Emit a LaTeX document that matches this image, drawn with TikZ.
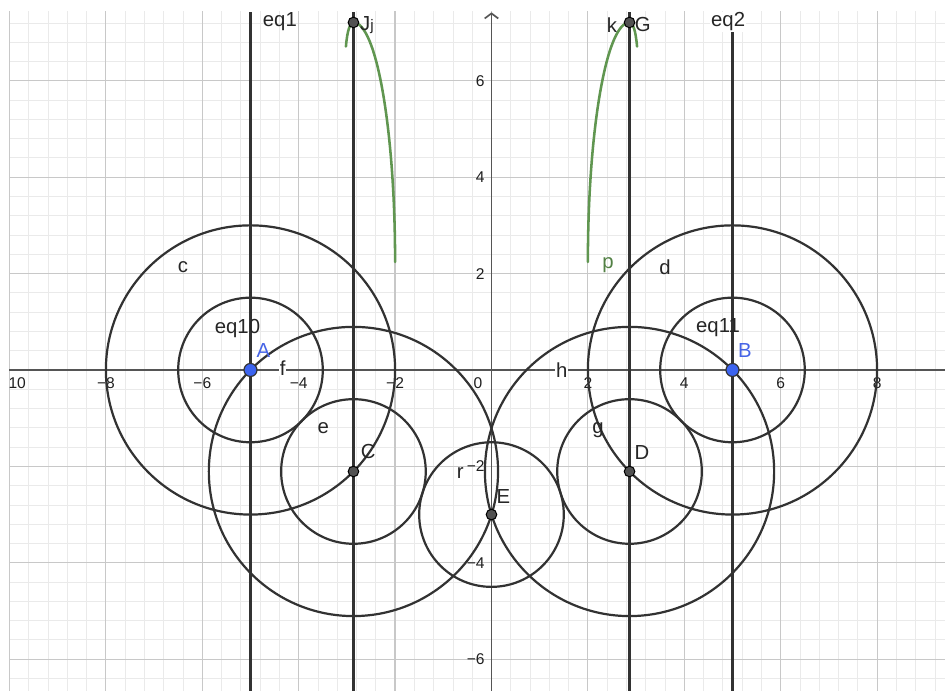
\documentclass[tikz,border=0pt]{standalone}
\usepackage{fontspec}
\setmainfont{Liberation Sans}
\usetikzlibrary{arrows.meta}
\definecolor{gridmajor}{RGB}{200,200,200}
\definecolor{gridminor}{RGB}{234,234,234}
\definecolor{ink}{RGB}{50,50,50}
\definecolor{axisc}{RGB}{85,85,85}
\definecolor{curvegreen}{RGB}{96,150,80}
\definecolor{ptblue}{RGB}{60,100,240}
\definecolor{lblblue}{RGB}{70,100,230}
\begin{document}
\begin{tikzpicture}[x=1cm,y=1cm,
  circ/.style={draw=ink, line width=1.3pt},
  vline/.style={draw=ink, line width=1.5pt},
  curve/.style={draw=curvegreen, line width=1.5pt, line cap=round},
  darkpt/.style={circle, fill=ink!85, draw=black, line width=0.6pt, minimum size=0.22cm, inner sep=0pt},
  bluept/.style={circle, fill=ptblue, draw=black!80, line width=0.7pt, minimum size=0.27cm, inner sep=0pt},
  lbl/.style={font=\fontsize{12}{14}\selectfont, text=black!85, inner sep=0.5pt},
  ticklbl/.style={font=\fontsize{9.2}{11}\selectfont, text=black!88, inner sep=0.5pt},
]
\useasboundingbox (-10.197,-6.660) rectangle (9.409,7.676);
\fill[white] (-10.197,-6.660) rectangle (9.409,7.676);
% grid
\begin{scope}
\clip (-10.03,-6.660) rectangle (9.409,7.43);
\draw[gridminor, line width=0.5pt, step=0.4] (-10,-6.8) grid (9.6,7.6);
\draw[gridmajor, line width=0.7pt, step=2] (-10,-8) grid (10,8);
\end{scope}
% axes
\draw[axisc, line width=1pt] (-10,0) -- (9.409,0);
\draw[axisc, line width=1pt, -{Straight Barb[length=3pt,width=8pt]}] (0,-6.66) -- (0,7.42);
% tick labels x
\foreach \v/\t in {-8/−8,-6/−6,-4/−4,-2/−2,2/2,4/4,6/6,8/8}
  \node[ticklbl] (tx\v) at (\v,-0.28) {\t};
\node[ticklbl] (tx10) at (-9.84,-0.28) {10};
\node[ticklbl] (tx0) at (-0.28,-0.28) {0};
% tick labels y
\foreach \v/\t in {6/6,4/4,2/2,-2/−2,-4/−4,-6/−6}
  \node[ticklbl, anchor=east] (ty\v) at (-0.12,\v) {\t};
% key points
\coordinate (A) at (-5,0);
\coordinate (B) at (5,0);
\coordinate (C) at (-2.864,-2.106);
\coordinate (D) at (2.864,-2.106);
\coordinate (E) at (0,-3);
\coordinate (J) at (-2.864,7.21);
\coordinate (G) at (2.864,7.21);
% circles
\draw[circ] (A) circle (3);
\draw[circ] (A) circle (1.5);
\draw[circ] (B) circle (3);
\draw[circ] (B) circle (1.5);
\draw[circ] (C) circle (1.5);
\draw[circ] (C) circle (3);
\draw[circ] (D) circle (1.5);
\draw[circ] (D) circle (3);
\draw[circ] (E) circle (1.5);
% vertical lines
\foreach \xx in {-5,-2.864,2.864,5}
  \draw[vline] (\xx,-6.66) -- (\xx,7.43);
% green curves
\draw[curve] (2.0,2.24) arc[start angle=180, end angle=90, x radius=0.864, y radius=4.97]
  .. controls (2.94,7.19) and (2.99,7.05) .. (3.02,6.71);
\draw[curve] (-2.0,2.24) arc[start angle=0, end angle=90, x radius=0.864, y radius=4.97]
  .. controls (-2.94,7.19) and (-2.99,7.05) .. (-3.02,6.71);
% points
\node[bluept] (pA) at (A) {};
\node[bluept] (pB) at (B) {};
\node[darkpt] (pC) at (C) {};
\node[darkpt] (pD) at (D) {};
\node[darkpt] (pE) at (E) {};
\node[darkpt] (pJ) at (J) {};
\node[darkpt] (pG) at (G) {};
% labels
\node[lbl] (leq1) at (-4.39,7.22) {eq1};
\node[lbl, fill=white] (leq2) at (4.91,7.22) {eq2};
\node[lbl] (lJ) at (-2.62,7.19) {J};
\node[lbl, font=\fontsize{9}{10}\selectfont] (lj) at (-2.48,7.12) {j};
\node[lbl] (lk) at (2.50,7.16) {k};
\node[lbl] (lG) at (3.14,7.16) {G};
\node[lbl] (lc) at (-6.40,2.14) {c};
\node[lbl] (ld) at (3.60,2.14) {d};
\node[lbl, text=curvegreen!85!black] (lp) at (2.42,2.18) {p};
\node[lbl] (leq10) at (-5.27,0.87) {eq10};
\node[lbl] (leq11) at (4.70,0.87) {eq11};
\node[lbl, text=lblblue] (lA) at (-4.73,0.41) {A};
\node[lbl, text=lblblue] (lB) at (5.26,0.41) {B};
\node[lbl, fill=white] (lf) at (-4.33,0.04) {f};
\node[lbl, fill=white] (lh) at (1.46,0.0) {h};
\node[lbl] (le) at (-3.49,-1.21) {e};
\node[lbl] (lg) at (2.21,-1.24) {g};
\node[lbl] (lC) at (-2.56,-1.69) {C};
\node[lbl] (lD) at (3.12,-1.72) {D};
\node[lbl] (lr) at (-0.65,-2.14) {r};
\node[lbl] (lE) at (0.245,-2.63) {E};
\end{tikzpicture}
\end{document}
